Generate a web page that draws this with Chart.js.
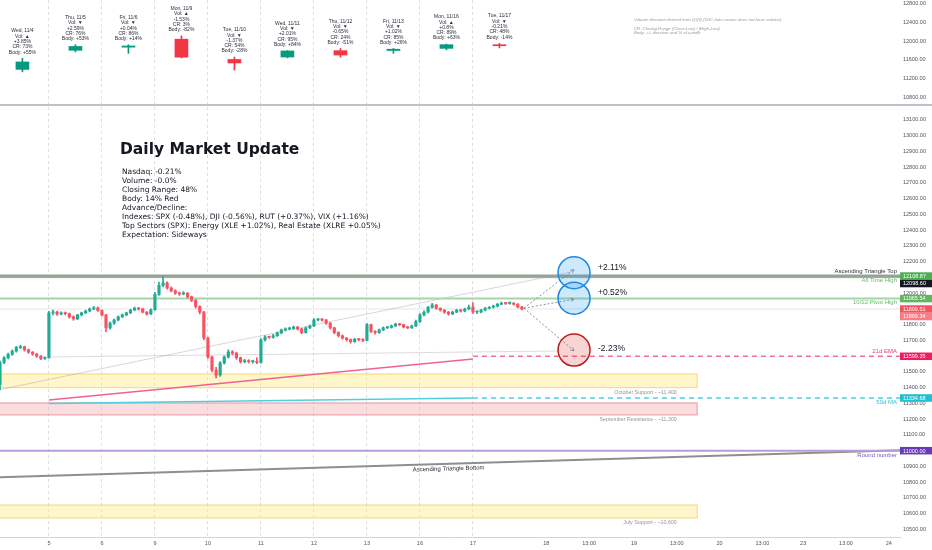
<!DOCTYPE html>
<html>
<head>
<meta charset="utf-8">
<title>Nasdaq Daily Market Update</title>
<script src="https://cdn.jsdelivr.net/npm/chart.js@4.4.1/dist/chart.umd.min.js"></script>
<style>
  html, body { margin: 0; padding: 0; background: #fff; }
  #page { position: relative; width: 932px; height: 550px; overflow: hidden; }
  #topChart { position: absolute; left: 0; top: 0; }
  #divider { position: absolute; left: 0; top: 104px; width: 932px; height: 2px; background: #bfc1c7; }
  #mainChart { position: absolute; left: 0; top: 106px; }
</style>
</head>
<body>
<div id="page">
  <canvas id="topChart" width="932" height="104"></canvas>
  <div id="divider"></div>
  <canvas id="mainChart" width="932" height="444"></canvas>
</div>
<script>
// 30 minute bars, Nov 4 - Nov 17 (13 bars a session)
const firstOpen = 11395;
const closes = [
  11420, 11560, 11590, 11612, 11632, 11655, 11660, 11640, 11625, 11613, 11600, 11585, 11590,
  11875, 11880, 11868, 11875, 11870, 11850, 11837, 11862, 11875, 11887, 11900, 11907, 11890,
  11862, 11780, 11810, 11830, 11850, 11862, 11875, 11893, 11905, 11900, 11880, 11868, 11895,
  11992, 12050, 12065, 12033, 12015, 12000, 11995, 12000, 11977, 11955, 11915, 11880, 11715,
  11595, 11512, 11480, 11557, 11595, 11627, 11620, 11590, 11565, 11570, 11565, 11565, 11560,
  11703, 11722, 11720, 11730, 11748, 11767, 11773, 11776, 11785, 11773, 11750, 11780, 11792,
  11830, 11833, 11830, 11810, 11780, 11750, 11730, 11715, 11705, 11692, 11708, 11705, 11700,
  11800, 11757, 11750, 11767, 11780, 11783, 11792, 11804, 11800, 11785, 11780, 11792, 11820,
  11862, 11880, 11910, 11925, 11904, 11893, 11880, 11868, 11880, 11893, 11887, 11900, 11912,
  11880, 11880, 11893, 11904, 11910, 11918, 11930, 11937, 11935, 11937, 11930, 11912, 11899.51
];
const highs = [
  11440, 11570, 11598, 11620, 11640, 11662, 11670, 11664, 11646, 11630, 11618, 11605, 11596,
  11885, 11892, 11886, 11882, 11880, 11874, 11856, 11866, 11880, 11892, 11906, 11916, 11912,
  11895, 11866, 11818, 11836, 11855, 11868, 11880, 11898, 11912, 11910, 11904, 11884, 11900,
  12005, 12070, 12108.87, 12072, 12040, 12022, 12008, 12010, 12004, 11982, 11960, 11920, 11884,
  11722, 11600, 11530, 11565, 11602, 11640, 11636, 11624, 11595, 11580, 11578, 11575, 11590,
  11712, 11730, 11728, 11738, 11754, 11772, 11780, 11784, 11792, 11790, 11778, 11786, 11798,
  11838, 11840, 11838, 11834, 11814, 11784, 11755, 11735, 11720, 11710, 11714, 11712, 11712,
  11808, 11804, 11762, 11772, 11786, 11790, 11798, 11810, 11808, 11804, 11790, 11797, 11829,
  11870, 11888, 11916, 11935, 11928, 11908, 11896, 11884, 11886, 11898, 11897, 11905, 11924,
  11940, 11888, 11898, 11910, 11915, 11924, 11935, 11944, 11942, 11945, 11940, 11934, 11916
];
const lows = [
  11380, 11386, 11552, 11582, 11605, 11625, 11648, 11632, 11618, 11606, 11592, 11578, 11580,
  11588, 11862, 11858, 11862, 11862, 11842, 11828, 11832, 11856, 11870, 11882, 11895, 11884,
  11855, 11755, 11772, 11802, 11824, 11845, 11856, 11870, 11888, 11892, 11874, 11860, 11864,
  11890, 11985, 12040, 12025, 12008, 11992, 11986, 11990, 11970, 11946, 11905, 11868, 11705,
  11585, 11500, 11462, 11472, 11550, 11588, 11608, 11580, 11556, 11558, 11556, 11555, 11552,
  11556, 11695, 11712, 11714, 11725, 11742, 11760, 11768, 11770, 11766, 11742, 11746, 11775,
  11788, 11824, 11822, 11802, 11772, 11742, 11722, 11708, 11696, 11682, 11688, 11698, 11692,
  11698, 11750, 11740, 11745, 11762, 11775, 11778, 11788, 11794, 11780, 11774, 11776, 11788,
  11815, 11856, 11875, 11905, 11898, 11886, 11872, 11860, 11864, 11876, 11880, 11882, 11896,
  11872, 11870, 11875, 11888, 11900, 11905, 11912, 11926, 11928, 11930, 11924, 11906, 11893
];

// daily candles in the top pane
const dayStarts = [0, 13, 26, 39, 52, 65, 78, 91, 104, 117];
const dayNames = ["Wed, 11/4", "Thu, 11/5", "Fri, 11/6", "Mon, 11/9", "Tue, 11/10", "Wed, 11/11", "Thu, 11/12", "Fri, 11/13", "Mon, 11/16", "Tue, 11/17"];
const dailyOpen = [11392, 11801, 11868, 12039, 11605, 11657, 11793, 11797, 11842, 11913];
const dailyHigh = [11630, 11920, 11920, 12108.87, 11655, 11795, 11840, 11840, 11935, 11951];
const dailyLow = [11340, 11766, 11735, 11640, 11380, 11640, 11655, 11735, 11810, 11851];
const dailyClose = [11552, 11883, 11894, 11654, 11529, 11787, 11699, 11824, 11921, 11899];
const volDir = ["▲", "▼", "▼", "▲", "▼", "▼", "▼", "▼", "▲", "▼"];
const dailyChange = ["+3.85%", "+2.59%", "+0.04%", "-1.53%", "-1.37%", "+2.01%", "-0.65%", "+1.02%", "+0.8%", "-0.21%"];
const closingRange = ["73%", "76%", "86%", "3%", "54%", "95%", "24%", "85%", "89%", "48%"];
const bodyPct = ["+55%", "+53%", "+14%", "-82%", "-28%", "+84%", "-51%", "+26%", "+63%", "-14%"];
const noteLines = ["Volume direction derived from QQQ (IXIC data source does not have volume).", "", "CR: Closing Range (Close-Low) / (High-Low)", "Body: +/- direction and % of candle"];

// axes
const timeTickPos = [13, 26, 39, 52, 65, 78, 91, 104, 117, 135, 145.5, 156.5, 167, 177.5, 188, 198, 208.5, 219];
const timeTickLabels = ["5", "6", "9", "10", "11", "12", "13", "16", "17", "18", "13:00", "19", "13:00", "20", "13:00", "23", "13:00", "24"];
const priceTicks = [10500, 10600, 10700, 10800, 10900, 11000, 11100, 11200, 11300, 11400, 11500, 11600, 11700, 11800, 11900,
  12000, 12100, 12200, 12300, 12400, 12500, 12600, 12700, 12800, 12900, 13000, 13100];
const topPriceTicks = [10800, 11200, 11600, 12000, 12400, 12800];

// levels and drawings
const levelNames = ["Ascending Triangle Top", "All Time High", "10/12 Pivot High", "21d EMA", "50d MA", "Round number"];
const levelPrices = [12108.87, 12098.60, 11965.54, 11599.35, 11334.68, 11000.00];
const lastPrice = 11899.51;
const emaPath = [[13, 11322], [117, 11582]];
const ma50Path = [[13, 11300], [117, 11335]];
const triangleBottom = [[1, 10832], [221.75, 11002]];
const channelTop = [[1, 11388], [141, 12134]];
const lowsLine = [[13, 11595], [138, 11633]];
const zoneNames = ["October Support - ~11,400", "September Resistance - ~11,300", "July Support - ~10,600"];
const zoneLow = [11400, 11227, 10573];
const zoneHigh = [11487, 11303, 10655];
const projFrom = [129.5, 11905];
const projTargets = [12150, 11961, 11634];
const projCircles = [12130, 11968, 11639];
const projLabels = ["+2.11%", "+0.52%", "-2.23%"];
const tagPrices = [12108.87, 12098.60, 11965.54, 11899.51, 11899.34, 11599.35, 11334.68, 11000.00];

const updateTitle = "Daily Market Update";
const updateLines = [
  "Nasdaq: -0.21%",
  "Volume: -0.0%",
  "Closing Range: 48%",
  "Body: 14% Red",
  "Advance/Decline:",
  "Indexes: SPX (-0.48%), DJI (-0.56%), RUT (+0.37%), VIX (+1.16%)",
  "Top Sectors (SPX): Energy (XLE +1.02%), Real Estate (XLRE +0.05%)",
  "Expectation: Sideways"
];

// ---- styling ----
Chart.defaults.font.family = "'Liberation Sans', Arial, sans-serif";
const upColor = "#22ab94", downColor = "#f7525f";
const dailyUp = "#089981", dailyDown = "#f23645";
const xMin = 1, xMax = 221.75;
const zoneEnd = 172, zoneLabelX = 167;
const zoneFill = ["rgba(255, 236, 140, 0.45)", "rgba(242, 170, 176, 0.4)", "rgba(255, 236, 140, 0.45)"];
const zoneEdge = ["rgba(245, 205, 90, 0.8)", "rgba(225, 130, 140, 0.8)", "rgba(245, 205, 90, 0.8)"];
const levelColor = ["#96a396", "#81c784", "#a5d6a7", "#ee6f99", "#4dd0e1", "#b39ddb"];
const levelWidth = [3, 1, 2, 1.5, 1.5, 2];
const levelDash = [[], [], [], [5, 4], [5, 4], []];
const levelStart = [-5, -5, -5, 117, 117, -5];
const levelText = ["#2a2e39", "#66bb6a", "#66bb6a", "#ec407a", "#26c6da", "#7e57c2"];
const levelTextDy = [-4.5, 3, 4, -5, 4, 4.3];
const tagColors = ["#4caf50", "#131722", "#5cb85c", "#f7525f", "#f77c84", "#ec1e5f", "#1fc0d6", "#673ab7"];
const projX = 141.8;
const projFill = ["rgba(33, 150, 243, 0.22)", "rgba(33, 150, 243, 0.22)", "rgba(229, 57, 53, 0.22)"];
const projEdge = ["#1e88e5", "#1e88e5", "#b71c1c"];
const projLabelDy = [-5.5, -5.5, -1];

const opens = closes.map((c, i) => i === 0 ? firstOpen : closes[i - 1]);

function text(ctx, str, x, y, font, color, align, baseline) {
  ctx.font = font;
  ctx.fillStyle = color;
  ctx.textAlign = align || "left";
  ctx.textBaseline = baseline || "middle";
  ctx.fillText(str, x, y);
}

function lineSet(pts, color, width, dash) {
  return {
    type: "line",
    data: pts.map(p => ({ x: p[0], y: p[1] })),
    borderColor: color,
    borderWidth: width,
    borderDash: dash || [],
    pointRadius: 0,
    fill: false,
    tension: 0
  };
}

function xAxis(showLabels) {
  return {
    type: "linear",
    min: xMin,
    max: xMax,
    offset: false,
    afterBuildTicks: s => { s.ticks = timeTickPos.map(v => ({ value: v })); },
    afterFit: s => { s.height = showLabels ? 13 : 0; s.paddingLeft = 0; s.paddingRight = 0; },
    grid: {
      drawTicks: false,
      offset: false,
      color: c => (c.tick && c.tick.value < closes.length) ? "rgba(120, 123, 134, 0.25)" : "rgba(0, 0, 0, 0)"
    },
    border: { display: showLabels, color: "#d1d4dc", dash: [3, 3] },
    ticks: {
      display: showLabels,
      autoSkip: false,
      maxRotation: 0,
      padding: 3,
      color: "#50535e",
      font: { size: 5.5 },
      callback: (v, i) => timeTickLabels[i]
    }
  };
}

function yAxis(min, max, tickValues) {
  return {
    position: "right",
    min: min,
    max: max,
    beginAtZero: false,
    afterBuildTicks: s => { s.ticks = tickValues.map(v => ({ value: v })); },
    afterFit: s => { s.width = 32; s.paddingTop = 0; s.paddingBottom = 0; },
    grid: { display: false, drawTicks: false },
    border: { display: false },
    ticks: { padding: 3, color: "#50535e", font: { size: 5.5 }, autoSkip: false, callback: v => v.toFixed(2) }
  };
}

// ---- top pane: daily candles with stats ----
const topOverlay = {
  id: "topOverlay",
  afterDatasetsDraw(chart) {
    const { ctx, scales: { x, y } } = chart;
    ctx.save();
    dayNames.forEach((name, i) => {
      const cx = x.getPixelForValue(dayStarts[i] + 6.5);
      const hy = y.getPixelForValue(dailyHigh[i]);
      const lines = [name, "Vol: " + volDir[i], dailyChange[i], "CR: " + closingRange[i], "Body: " + bodyPct[i]];
      lines.forEach((s, k) => text(ctx, s, cx, hy - 6 - (lines.length - 1 - k) * 5.3, "5px 'Liberation Sans'", "#2a2e39", "center"));
    });
    const nx = x.getPixelForValue(156.5), ny = y.getPixelForValue(12450);
    noteLines.forEach((s, k) => text(ctx, s, nx, ny + k * 4.4, "italic 4.3px 'Liberation Sans'", "#9598a1", "left"));
    ctx.restore();
  }
};

new Chart(document.getElementById("topChart"), {
  type: "bar",
  data: {
    datasets: [
      {
        data: dayStarts.map((d, i) => ({ x: d + 6.5, y: [dailyOpen[i], dailyClose[i]] })),
        backgroundColor: dailyClose.map((c, i) => c >= dailyOpen[i] ? dailyUp : dailyDown),
        barThickness: 13,
        minBarLength: 1,
        grouped: false
      },
      {
        data: dayStarts.map((d, i) => ({ x: d + 6.5, y: [dailyLow[i], dailyHigh[i]] })),
        backgroundColor: dailyClose.map((c, i) => c >= dailyOpen[i] ? dailyUp : dailyDown),
        barThickness: 1,
        grouped: false
      }
    ]
  },
  options: {
    responsive: false,
    animation: false,
    events: [],
    layout: { padding: 0, autoPadding: false },
    plugins: { legend: { display: false }, tooltip: { enabled: false } },
    scales: { x: xAxis(false), y: yAxis(10651, 12878, topPriceTicks) }
  },
  plugins: [topOverlay]
});

// ---- main pane: 30 minute candles and drawings ----
const mainOverlay = {
  id: "mainOverlay",
  beforeDatasetsDraw(chart) {
    const { ctx, chartArea: a, scales: { x, y } } = chart;
    ctx.save();
    ctx.beginPath();
    ctx.rect(a.left, a.top, a.right - a.left, a.bottom - a.top);
    ctx.clip();
    const x0 = x.getPixelForValue(xMin - 5), x1 = x.getPixelForValue(zoneEnd);
    zoneNames.forEach((name, i) => {
      const yT = y.getPixelForValue(zoneHigh[i]), yB = y.getPixelForValue(zoneLow[i]);
      ctx.fillStyle = zoneFill[i];
      ctx.fillRect(x0, yT, x1 - x0, yB - yT);
      ctx.strokeStyle = zoneEdge[i];
      ctx.lineWidth = 1;
      ctx.strokeRect(x0, yT, x1 - x0, yB - yT);
      text(ctx, name, x.getPixelForValue(zoneLabelX), yB + 4.5, "5.3px 'Liberation Sans'", "#8f939c", "right");
    });
    ctx.restore();
  },
  afterDatasetsDraw(chart) {
    const { ctx, chartArea: a, scales: { x, y } } = chart;
    ctx.save();
    // arrow heads
    const sx = x.getPixelForValue(projFrom[0]), sy = y.getPixelForValue(projFrom[1]);
    projTargets.forEach(v => {
      const tx = x.getPixelForValue(projX), ty = y.getPixelForValue(v);
      const ang = Math.atan2(ty - sy, tx - sx);
      ctx.strokeStyle = "#7d818b";
      ctx.lineWidth = 0.8;
      ctx.beginPath();
      ctx.moveTo(tx - 4 * Math.cos(ang - 0.5), ty - 4 * Math.sin(ang - 0.5));
      ctx.lineTo(tx, ty);
      ctx.lineTo(tx - 4 * Math.cos(ang + 0.5), ty - 4 * Math.sin(ang + 0.5));
      ctx.stroke();
    });
    // projection labels
    projLabels.forEach((s, i) => {
      text(ctx, s, x.getPixelForValue(projX) + 24, y.getPixelForValue(projCircles[i]) + projLabelDy[i], "8.5px 'Liberation Sans'", "#131722", "left");
    });
    // level labels at the right edge
    levelNames.forEach((s, i) => {
      text(ctx, s, a.right - 3, y.getPixelForValue(levelPrices[i]) + levelTextDy[i], "6px 'Liberation Sans'", levelText[i], "right");
    });
    // triangle bottom label, following the line
    const p0x = x.getPixelForValue(triangleBottom[0][0]), p0y = y.getPixelForValue(triangleBottom[0][1]);
    const p1x = x.getPixelForValue(triangleBottom[1][0]), p1y = y.getPixelForValue(triangleBottom[1][1]);
    const lx = x.getPixelForValue(111);
    const ly = p0y + (p1y - p0y) * (lx - p0x) / (p1x - p0x);
    ctx.save();
    ctx.translate(lx, ly);
    ctx.rotate(Math.atan2(p1y - p0y, p1x - p0x));
    text(ctx, "Ascending Triangle Bottom", 0, 2, "6px 'Liberation Sans'", "#2a2e39", "center", "top");
    ctx.restore();
    // update text block
    const tx = x.getPixelForValue(30.43);
    text(ctx, updateTitle, tx, y.getPixelForValue(12909), "bold 15.5px 'DejaVu Sans'", "#131722", "left");
    const by = y.getPixelForValue(12771);
    updateLines.forEach((s, k) => text(ctx, s, tx + 2, by + k * 9, "7.5px 'DejaVu Sans'", "#131722", "left"));
    ctx.restore();
  },
  afterDraw(chart) {
    const { ctx, chartArea: a, scales: { y } } = chart;
    const h = 7.5;
    let prev = -Infinity;
    ctx.save();
    tagPrices.forEach((v, i) => {
      let cy = y.getPixelForValue(v);
      if (cy < prev + h) cy = prev + h;
      prev = cy;
      ctx.fillStyle = tagColors[i];
      ctx.fillRect(a.right, cy - h / 2, chart.width - a.right, h);
      text(ctx, v.toFixed(2), a.right + 3, cy + 0.3, "5.5px 'Liberation Sans'", "#ffffff", "left");
    });
    ctx.restore();
  }
};

const candleColors = closes.map((c, i) => c >= opens[i] ? upColor : downColor);

const mainDatasets = [
  {
    data: closes.map((c, i) => ({ x: i, y: [opens[i], c] })),
    backgroundColor: candleColors,
    barThickness: 2.5,
    minBarLength: 1,
    grouped: false
  },
  {
    data: closes.map((c, i) => ({ x: i, y: [lows[i], highs[i]] })),
    backgroundColor: candleColors,
    barThickness: 1,
    grouped: false
  },
  {
    type: "scatter",
    data: projCircles.map(v => ({ x: projX, y: v })),
    pointRadius: 16,
    pointBackgroundColor: projFill,
    pointBorderColor: projEdge,
    pointBorderWidth: 1.5
  }
];
projTargets.forEach(v => mainDatasets.push(lineSet([projFrom, [projX, v]], "#8a8d96", 1, [2, 2])));
mainDatasets.push(lineSet(emaPath, "#f06292", 1.5));
mainDatasets.push(lineSet(ma50Path, "#4dd0e1", 1.5));
levelPrices.forEach((p, i) => mainDatasets.push(lineSet([[levelStart[i], p], [xMax + 5, p]], levelColor[i], levelWidth[i], levelDash[i])));
mainDatasets.push(lineSet(triangleBottom, "#8e8e8e", 2));
mainDatasets.push(lineSet(channelTop, "rgba(140, 140, 150, 0.35)", 1));
mainDatasets.push(lineSet(lowsLine, "rgba(140, 140, 150, 0.3)", 1));
mainDatasets.push(lineSet([[xMin - 5, lastPrice], [xMax + 5, lastPrice]], "rgba(140, 140, 150, 0.22)", 1));

new Chart(document.getElementById("mainChart"), {
  type: "bar",
  data: { datasets: mainDatasets },
  options: {
    responsive: false,
    animation: false,
    events: [],
    layout: { padding: { top: 1, left: 0, right: 0, bottom: 0 }, autoPadding: false },
    plugins: { legend: { display: false }, tooltip: { enabled: false } },
    scales: { x: xAxis(true), y: yAxis(10452, 13182, priceTicks) }
  },
  plugins: [mainOverlay]
});
</script>
</body>
</html>
